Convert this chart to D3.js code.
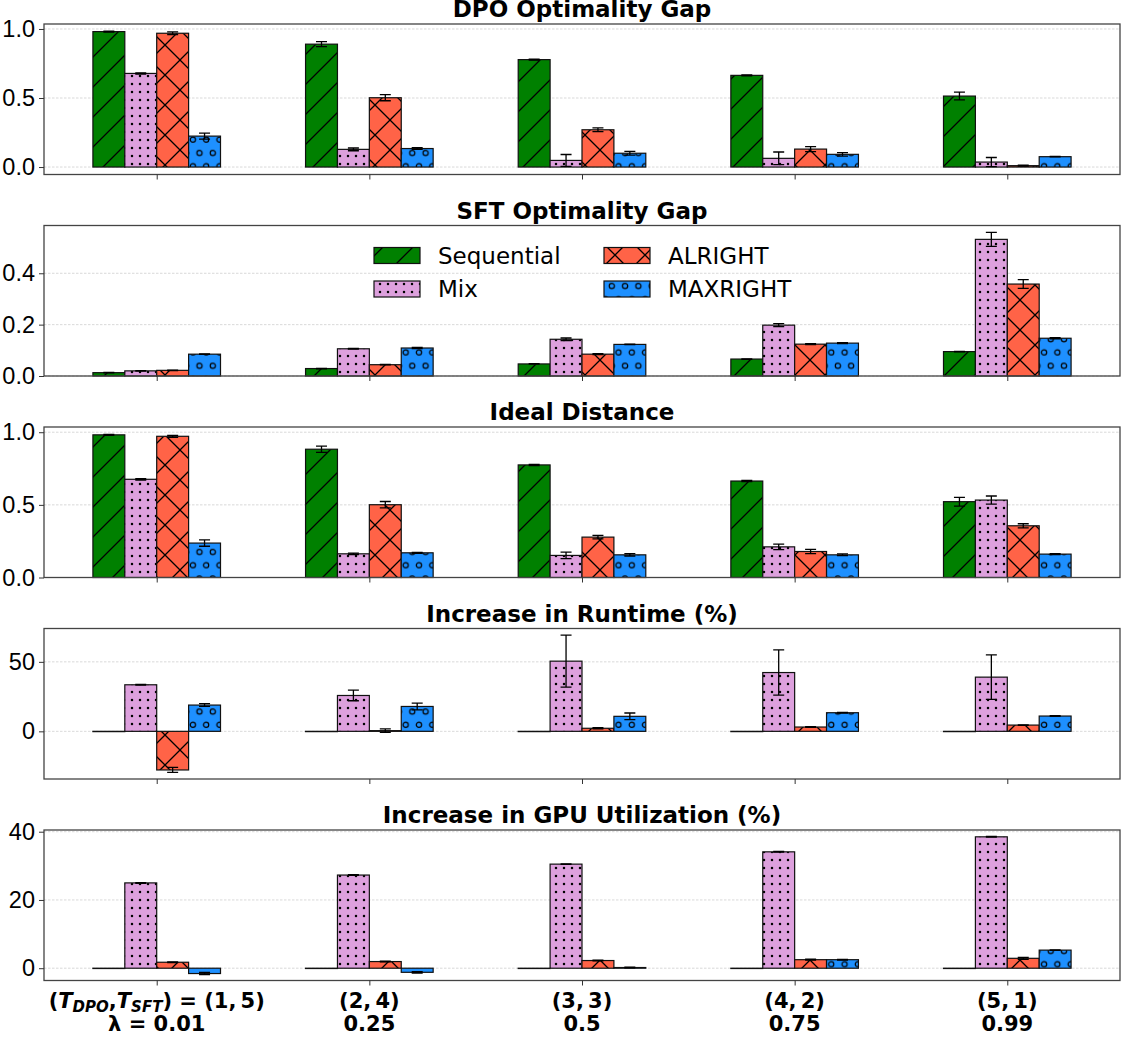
<!DOCTYPE html>
<html>
<head>
  <meta charset="utf-8">
  <title>Optimality gaps</title>
  <style type="text/css">
    body { margin: 0; background: #fff; }
    svg { font-family: "DejaVu Sans", sans-serif; }
    .tick text { font-size: 23.5px; fill: #000; }
    .tick line { stroke: #333; }
  </style>
</head>
<body>
  <script type="text/javascript" src="https://d3js.org/d3.v7.min.js"></script>
  <script type="text/javascript">
    // categories
    var groups = ["(1, 5)", "(2, 4)", "(3, 3)", "(4, 2)", "(5, 1)"];
    var lambdas = ["0.01", "0.25", "0.5", "0.75", "0.99"];
    var methods = ["Sequential", "Mix", "ALRIGHT", "MAXRIGHT"];

    // DPO Optimality Gap
    var dpoSeq = [0.981, 0.890, 0.778, 0.664, 0.514];
    var dpoSeqErr = [0.003, 0.018, 0.004, 0.003, 0.028];
    var dpoMix = [0.678, 0.128, 0.048, 0.063, 0.036];
    var dpoMixErr = [0.004, 0.010, 0.043, 0.046, 0.033];
    var dpoAlr = [0.969, 0.502, 0.270, 0.130, 0.010];
    var dpoAlrErr = [0.010, 0.022, 0.013, 0.018, 0.003];
    var dpoMax = [0.224, 0.134, 0.100, 0.092, 0.075];
    var dpoMaxErr = [0.022, 0.006, 0.014, 0.013, 0.002];

    // SFT Optimality Gap
    var sftSeq = [0.013, 0.029, 0.047, 0.066, 0.095];
    var sftSeqErr = [0.001, 0.001, 0.001, 0.001, 0.001];
    var sftMix = [0.020, 0.106, 0.143, 0.198, 0.532];
    var sftMixErr = [0.001, 0.001, 0.005, 0.006, 0.027];
    var sftAlr = [0.022, 0.044, 0.085, 0.124, 0.358];
    var sftAlrErr = [0.001, 0.001, 0.002, 0.002, 0.017];
    var sftMax = [0.085, 0.109, 0.123, 0.128, 0.147];
    var sftMaxErr = [0.001, 0.002, 0.001, 0.002, 0.002];

    // Ideal Distance
    var idSeq = [0.982, 0.883, 0.775, 0.664, 0.522];
    var idSeqErr = [0.003, 0.022, 0.004, 0.004, 0.030];
    var idMix = [0.676, 0.163, 0.152, 0.211, 0.533];
    var idMixErr = [0.005, 0.005, 0.022, 0.019, 0.028];
    var idAlr = [0.972, 0.501, 0.278, 0.179, 0.356];
    var idAlrErr = [0.007, 0.022, 0.012, 0.014, 0.014];
    var idMax = [0.237, 0.170, 0.156, 0.156, 0.161];
    var idMaxErr = [0.022, 0.003, 0.008, 0.006, 0.003];

    // Increase in Runtime (%)
    var rtSeq = [0, 0, 0, 0, 0];
    var rtSeqErr = [0, 0, 0, 0, 0];
    var rtMix = [33.5, 25.8, 50.5, 42.3, 39.0];
    var rtMixErr = [0.3, 3.8, 18.7, 16.3, 16.0];
    var rtAlr = [-27.8, 0.5, 2.2, 3.1, 4.5];
    var rtAlrErr = [1.8, 1.2, 0.5, 0.2, 0.2];
    var rtMax = [18.9, 17.9, 10.8, 13.4, 11.0];
    var rtMaxErr = [1.0, 2.4, 2.4, 0.2, 0.2];

    // Increase in GPU Utilization (%)
    var gpuSeq = [0, 0, 0, 0, 0];
    var gpuSeqErr = [0, 0, 0, 0, 0];
    var gpuMix = [25.0, 27.3, 30.5, 34.1, 38.5];
    var gpuMixErr = [0.1, 0.1, 0.1, 0.1, 0.1];
    var gpuAlr = [1.75, 1.95, 2.25, 2.5, 2.9];
    var gpuAlrErr = [0.1, 0.1, 0.1, 0.15, 0.3];
    var gpuMax = [-1.56, -1.2, 0.2, 2.5, 5.3];
    var gpuMaxErr = [0.3, 0.2, 0.1, 0.1, 0.1];

    var titles = ["DPO Optimality Gap", "SFT Optimality Gap", "Ideal Distance",
                  "Increase in Runtime (%)", "Increase in GPU Utilization (%)"];
    var yTicks = [[0, 0.5, 1.0], [0, 0.2, 0.4], [0, 0.5, 1.0], [0, 50], [0, 20, 40]];

    var panels = [
      { vals: [dpoSeq, dpoMix, dpoAlr, dpoMax], errs: [dpoSeqErr, dpoMixErr, dpoAlrErr, dpoMaxErr], dom: [-0.054, 1.036], fmt: ".1f" },
      { vals: [sftSeq, sftMix, sftAlr, sftMax], errs: [sftSeqErr, sftMixErr, sftAlrErr, sftMaxErr], dom: [0, 0.586], fmt: ".1f" },
      { vals: [idSeq, idMix, idAlr, idMax], errs: [idSeqErr, idMixErr, idAlrErr, idMaxErr], dom: [0, 1.036], fmt: ".1f" },
      { vals: [rtSeq, rtMix, rtAlr, rtMax], errs: [rtSeqErr, rtMixErr, rtAlrErr, rtMaxErr], dom: [-34.3, 74.0], fmt: "d" },
      { vals: [gpuSeq, gpuMix, gpuAlr, gpuMax], errs: [gpuSeqErr, gpuMixErr, gpuAlrErr, gpuMaxErr], dom: [-3.6, 40.5], fmt: "d" }
    ];

    var colors = ["#008000", "#dda0dd", "#ff6347", "#1e90ff"];
    var hatchIds = ["hSlash", "hDots", "hCross", "hCircles"];

    //Width and height
    var w = 1121, h = 1037;
    var left = 44, right = 1120;
    var top0 = 24, step = 201.5, ph = 150.5;
    var barW = 0.15;

    var svg = d3.select("body").append("svg")
      .attr("width", w)
      .attr("height", h);

    // hatch patterns
    var defs = svg.append("defs");
    function pat(id, pw, phh, color) {
      var p = defs.append("pattern").attr("id", id)
        .attr("patternUnits", "userSpaceOnUse")
        .attr("width", pw).attr("height", phh);
      p.append("rect").attr("width", pw).attr("height", phh).attr("fill", color);
      return p;
    }
    var P = 30;
    pat("hSlash", P, P, colors[0]).append("path")
      .attr("d", "M0," + P + "L" + P + ",0M-2,2L2,-2M" + (P - 2) + "," + (P + 2) + "L" + (P + 2) + "," + (P - 2))
      .attr("stroke", "#000").attr("stroke-width", 1.3);
    pat("hCross", P, P, colors[2]).append("path")
      .attr("d", "M0," + P + "L" + P + ",0M-2,2L2,-2M" + (P - 2) + "," + (P + 2) + "L" + (P + 2) + "," + (P - 2) +
                 "M0,0L" + P + "," + P + "M" + (P - 2) + ",-2L" + (P + 2) + ",2M-2," + (P - 2) + "L2," + (P + 2))
      .attr("stroke", "#000").attr("stroke-width", 1.3);
    var dp = pat("hDots", 8, 8, colors[1]);
    dp.append("circle").attr("cx", 4).attr("cy", 4).attr("r", 1.25).attr("fill", "#000");
    var cp = pat("hCircles", 13.3, 26.6, colors[3]);
    [[6.65, 6.65], [0, 19.95], [13.3, 19.95]].forEach(function(c) {
      cp.append("circle").attr("cx", c[0]).attr("cy", c[1]).attr("r", 2.6)
        .attr("fill", "none").attr("stroke", "#000").attr("stroke-width", 1.2);
    });

    var x = d3.scaleLinear().domain([-0.53, 4.53]).range([left, right]);

    panels.forEach(function(pn, pi) {
      var top = top0 + pi * step, bottom = top + ph;
      var y = d3.scaleLinear().domain(pn.dom).range([bottom, top]);
      var g = svg.append("g");

      // grid
      g.selectAll(".grid").data(yTicks[pi]).enter().append("line")
        .attr("x1", left).attr("x2", right)
        .attr("y1", function(d) { return y(d); }).attr("y2", function(d) { return y(d); })
        .attr("stroke", "#cfcfcf").attr("stroke-width", 0.8).attr("stroke-dasharray", "2.5,1.5");

      // bars
      pn.vals.forEach(function(series, si) {
        var off = (si - 1.5) * barW;
        g.selectAll(".bar" + si).data(series).enter().append("rect")
          .attr("x", function(d, i) { return x(i + off - barW / 2); })
          .attr("width", x(barW) - x(0))
          .attr("y", function(d) { return y(Math.max(d, 0)); })
          .attr("height", function(d) { return Math.max(Math.abs(y(d) - y(0)), 0.3); })
          .attr("fill", "url(#" + hatchIds[si] + ")")
          .attr("stroke", "#111").attr("stroke-width", 1.2);
      });

      // error bars
      pn.vals.forEach(function(series, si) {
        var off = (si - 1.5) * barW;
        var errs = pn.errs[si];
        var eg = g.selectAll(".err" + si).data(series).enter().append("g")
          .filter(function(d, i) { return errs[i] > 0; });
        eg.append("path")
          .attr("d", function(d, i) {
            var cx = x(i + off), y1 = y(d - errs[i]), y2 = y(d + errs[i]);
            return "M" + cx + "," + y1 + "V" + y2 +
                   "M" + (cx - 5.5) + "," + y1 + "H" + (cx + 5.5) +
                   "M" + (cx - 5.5) + "," + y2 + "H" + (cx + 5.5);
          })
          .attr("stroke", "#000").attr("stroke-width", 1.3).attr("fill", "none");
      });

      // frame
      g.append("rect").attr("x", left).attr("y", top)
        .attr("width", right - left).attr("height", ph)
        .attr("fill", "none").attr("stroke", "#444").attr("stroke-width", 1.3);

      // axes
      var ya = g.append("g").attr("transform", "translate(" + left + ",0)")
        .call(d3.axisLeft(y).tickValues(yTicks[pi]).tickSize(5).tickPadding(4)
          .tickFormat(d3.format(pn.fmt)));
      ya.select(".domain").remove();
      var xa = g.append("g").attr("transform", "translate(0," + bottom + ")")
        .call(d3.axisBottom(x).tickValues([0, 1, 2, 3, 4]).tickSize(5).tickFormat(""));
      xa.select(".domain").remove();

      // title
      svg.append("text")
        .attr("x", (left + right) / 2).attr("y", top - 7)
        .attr("text-anchor", "middle")
        .attr("font-size", 23).attr("font-weight", "bold")
        .text(titles[pi]);
    });

    // legend (inside SFT panel)
    var lg = svg.append("g");
    var legPos = [[374, 247.5], [374, 281], [604, 247.5], [604, 281]];
    methods.forEach(function(m, i) {
      lg.append("rect").attr("x", legPos[i][0]).attr("y", legPos[i][1])
        .attr("width", 46).attr("height", 16)
        .attr("fill", "url(#" + hatchIds[i] + ")")
        .attr("stroke", "#111").attr("stroke-width", 1.2);
      lg.append("text").attr("x", legPos[i][0] + 64).attr("y", legPos[i][1] + 16)
        .attr("font-size", 23).text(m);
    });

    // group labels under the last panel
    var lab = svg.append("g").attr("font-weight", "bold").attr("font-size", 21).attr("text-anchor", "middle");
    groups.forEach(function(gname, i) {
      var t1 = lab.append("text").attr("x", x(i)).attr("y", 1008);
      if (i === 0) {
        t1.append("tspan").text("(");
        t1.append("tspan").attr("font-style", "italic").text("T");
        t1.append("tspan").attr("font-style", "italic").attr("font-size", 15).attr("dy", 3.5).text("DPO");
        t1.append("tspan").attr("dy", -3.5).text(",");
        t1.append("tspan").attr("font-style", "italic").text("T");
        t1.append("tspan").attr("font-style", "italic").attr("font-size", 15).attr("dy", 3.5).text("SFT");
        t1.append("tspan").attr("dy", -3.5).text(") = " + gname.replace(", ", ",\u2009"));
      } else {
        t1.text(gname.replace(", ", ",\u2009"));
      }
      lab.append("text").attr("x", x(i)).attr("y", 1031)
        .text(i === 0 ? "\u03bb = " + lambdas[i] : lambdas[i]);
    });
  </script>
</body>
</html>
